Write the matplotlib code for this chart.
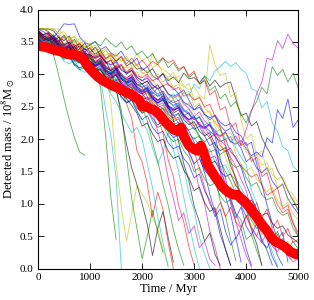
import matplotlib
matplotlib.use("Agg")
import matplotlib.pyplot as plt

# sample times of the individual runs (Myr)
TIME = list(range(0, 5001, 100))

# detected mass (1e8 Msun) for individual runs, sampled every 100 Myr
run01 = [3.70,3.66,3.61,3.57,3.67,3.78,3.77,3.78,3.58,3.49,3.46,3.51,3.38,3.43,3.33,3.28,3.36,3.22,3.17,3.25,
         3.06,3.12,2.98,2.92,3.01,2.84,2.79,2.70,2.76,2.60,2.45,2.53,2.38,2.30,2.36,2.21,2.12,2.17,1.98,1.86,
         1.65,1.72,1.55,1.48,1.56,1.35,1.24,1.30,1.08,0.95,0.85]
run02 = [3.60,3.54,3.47,3.52,3.41,3.33,3.38,3.30,3.22,3.29,3.25,3.14,3.19,3.08,3.02,3.10,2.95,2.89,2.97,2.84,
         2.85,2.76,2.70,2.79,2.62,2.55,2.61,2.48,2.36,2.41,2.20,2.05,1.88,1.64,1.40,1.05,0.82,0.45,0.12]
run03 = [3.65,3.58,3.62,3.49,3.53,3.44,3.39,3.47,3.35,3.28,3.30,3.19,3.25,3.12,3.06,3.14,2.99,2.93,3.01,2.82,
         2.75,2.81,2.68,2.60,2.66,2.52,2.45,2.51,2.36,2.28,2.20,2.26,2.10,2.02,2.08,1.90,1.81,1.86,1.69,1.58,
         1.50,1.41,1.46,1.28,1.13,1.19,0.98,0.86,0.92,0.70,0.50]
run04 = [3.55,3.44,3.47,3.31,3.36,3.25,3.29,3.14,3.21,3.08,3.05,2.96,3.02,2.88,2.82,2.90,2.76,2.70,2.74,2.60,
         2.55,2.46,2.52,2.38,2.30,2.16,2.05,1.78,1.55,1.15,0.90,0.48,0.22,0.00]
run05 = [3.68,3.61,3.65,3.55,3.50,3.58,3.46,3.40,3.47,3.38,3.35,3.27,3.33,3.20,3.15,3.22,3.08,3.02,3.09,2.96,
         2.90,2.97,2.84,2.77,2.83,2.70,2.63,2.68,2.55,2.47,2.35,2.42,2.28,2.20,2.14,1.98,1.90,1.72,1.58,1.38,
         1.20,0.88,0.70,0.45,0.28,0.06]
run06 = [3.70,3.70,3.70,3.70,3.63,3.54,3.60,3.49,3.55,3.41,3.45,3.37,3.40,3.29,3.34,3.25,3.21,3.28,3.17,3.33,
         3.20,3.27,3.10,3.16,3.02,2.95,3.03,2.88,2.80,2.86,2.60,2.66,2.48,2.40,2.25,2.18,1.96,2.04,1.77,1.62,
         1.50,1.57,1.38,1.30,1.19,1.25,1.05,0.96,1.02,0.84,0.75]
run07 = [3.70,3.70,3.70,3.67,3.57,3.52,3.59,3.43,3.48,3.38,3.40,3.31,3.37,3.24,3.29,3.20,3.27,3.13,3.18,3.08,
         3.10,3.02,3.09,2.95,3.01,2.90,2.96,2.87,3.02,2.93,2.95,2.87,2.97,2.82,2.91,2.80,2.86,2.88,2.62,2.36,
         2.40,2.20,2.27,2.02,1.86,1.72,1.52,1.38,1.20,1.05,0.90]
run08 = [3.62,3.56,3.50,3.54,3.43,3.38,3.44,3.30,3.26,3.33,3.19,3.15,3.21,3.07,3.02,3.08,2.94,2.88,2.93,2.78,
         2.74,2.80,2.66,2.60,2.67,2.52,2.47,2.53,2.38,2.30,2.34,2.20,2.16,2.22,2.04,1.96,2.00,1.80,1.72,1.56,
         1.30,1.10,0.92,0.64,0.45,0.18,0.02]
run09 = [3.58,3.49,3.44,3.52,3.37,3.30,3.35,3.22,3.19,3.26,3.12,3.05,3.10,2.97,2.93,3.00,2.86,2.78,2.84,2.70,
         2.66,2.72,2.57,2.48,2.53,2.38,2.33,2.39,2.21,2.14,2.18,2.03,1.96,2.02,1.85,1.76,1.82,1.63,1.56,1.60,
         1.40,1.28,1.33,1.14,1.06,1.10,0.90,0.82,0.86,0.62,0.50]
run10 = [3.60,3.53,3.55,3.46,3.49,3.40,3.36,3.44,3.31,3.27,3.30,3.18,3.22,3.10,3.05,3.12,2.97,2.91,2.96,2.84,
         2.80,2.66,2.55,2.32,2.10,1.68,1.42,0.98,0.72,0.33,0.05]
run11 = [3.50,3.41,3.44,3.29,3.34,3.20,3.16,3.22,3.07,3.03,3.08,2.92,2.96,2.84,2.78,2.85,2.70,2.63,2.66,2.53,
         2.55,2.44,2.48,2.32,2.36,2.22,2.17,2.24,2.06,1.98,2.03,1.87,1.80,1.85,1.65,1.57,1.60,1.44,1.38,1.25,
         1.10,0.85,0.68,0.44,0.28,0.05]
run12 = [3.55,3.47,3.51,3.38,3.42,3.30,3.25,3.33,3.20,3.14,3.19,3.05,3.10,2.98,2.92,2.99,2.86,2.80,2.85,2.72,
         2.70,2.61,2.66,2.52,2.47,2.42,2.38,2.24,2.12,1.78,1.60,1.22,1.00,0.58,0.33,0.00]
run13 = [3.70,3.70,3.70,3.70,3.70,3.60,3.55,3.58,3.47,3.42,3.48,3.35,3.30,3.37,3.24,3.20,3.27,3.12,3.09,3.15,
         3.03,2.98,3.33,3.14,3.08,3.02,2.93,2.97,2.82,2.76,2.81,2.68,2.62,3.46,3.15,2.98,3.02,2.65,2.72,2.30,
         2.00,2.08,1.75,1.82,1.50,1.55,1.25,1.32,1.05,1.10,0.90]
run14 = [3.65,3.57,3.60,3.47,3.52,3.40,3.35,3.43,3.30,3.24,3.29,3.16,3.20,3.06,3.01,3.08,2.94,2.87,2.91,2.78,
         2.73,2.79,2.63,2.56,2.61,2.47,2.40,2.45,2.30,2.22,2.27,2.12,2.05,2.10,1.92,1.82,1.87,1.58,1.40,1.12,
         0.92,0.60,0.38,0.05]
run15 = [3.58,3.50,3.46,3.52,3.38,3.33,3.39,3.24,3.20,3.27,3.14,3.08,3.13,2.99,2.94,3.00,2.86,2.81,2.87,2.74,
         2.70,2.75,2.62,2.56,2.61,2.48,2.43,2.49,2.36,2.30,2.35,2.22,2.18,2.24,2.10,2.05,2.11,1.96,1.92,1.98,
         1.85,1.74,1.80,1.72,2.02,1.94,2.45,2.32,2.62,2.18,2.30]
run16 = [3.62,3.55,3.58,3.46,3.40,3.48,3.34,3.42,3.30,3.40,3.45,3.50,3.44,3.56,3.48,3.42,3.50,3.38,3.44,3.30,
         3.36,3.25,3.32,3.18,3.26,3.10,3.18,3.05,3.12,2.95,3.02,2.85,2.92,2.75,2.82,2.62,2.70,2.50,2.58,2.38,
         2.25,2.45,2.58,2.80,2.70,3.12,2.98,3.08,2.88,3.02,2.78]
run17 = [3.55,3.45,3.50,3.36,3.44,3.28,3.36,3.20,3.28,3.12,3.22,3.05,3.14,2.98,3.06,2.90,2.98,2.84,2.92,2.78,
         2.86,2.72,2.80,2.66,2.74,2.62,2.70,2.58,2.72,2.66,2.85,2.78,2.98,2.90,3.05,3.12,3.20,3.12,3.18,3.08,
         3.02,2.78,2.74,2.48,2.58,2.25,2.12,1.88,1.82,1.58,1.50]
run18 = [3.60,3.53,3.48,3.55,3.42,3.37,3.43,3.28,3.24,3.31,3.17,3.12,3.18,3.04,2.99,3.06,2.92,2.86,2.91,2.78,
         2.72,2.78,2.64,2.58,2.63,2.50,2.44,2.49,2.36,2.30,2.34,2.22,2.17,2.23,2.08,2.04,2.10,1.95,2.05,1.90,
         2.15,2.42,2.70,2.88,3.25,3.22,3.52,3.40,3.62,3.48,3.40]
run19 = [3.68,3.60,3.64,3.52,3.60,3.46,3.54,3.40,3.48,3.34,3.42,3.28,3.36,3.24,3.32,3.20,3.28,3.16,3.25,3.14,
         3.22,3.12,3.20,3.15,3.25,3.18,3.22,3.08,3.12,2.98,3.05,2.85,2.90,2.68,2.75,2.45,2.50,2.18,2.25,1.90,
         1.95,1.65,1.72,1.42,1.48,1.18,1.25,0.92,0.98,0.70,0.55]
run20 = [3.65,3.56,3.60,3.45,3.52,3.38,3.46,3.30,3.40,3.24,3.32,3.15,3.22,3.05,2.55,1.62,0.95,0.42,0.85,1.28,
         1.15,1.02,0.78,0.62,0.30,0.05]
run21 = [3.62,3.55,3.48,3.30,2.98,2.62,2.30,2.02,1.80,1.75]
run22 = [3.55,3.46,3.50,3.36,3.44,3.28,3.36,3.20,3.28,3.12,3.20,3.05,2.95,2.45,2.05,1.40,0.00]
run23 = [3.58,3.48,3.54,3.40,3.48,3.32,3.40,3.25,3.34,3.18,3.26,3.05,2.80,2.05,1.10,0.45]
run24 = [3.60,3.50,3.55,3.40,3.48,3.32,3.40,3.25,3.34,3.18,3.28,3.12,3.20,3.02,3.00,2.75,2.45,1.72,1.08,0.62,
         0.15,0.50,0.90,0.55,0.25]
run25 = [3.70,3.70,3.66,3.58,3.52,3.60,3.46,3.54,3.40,3.48,3.34,3.42,3.28,3.20,3.05,2.80,2.35,1.92,1.55,1.30,
         1.00,0.68,0.20,0.62,0.88,0.48,0.10]
run26 = [3.62,3.55,3.58,3.46,3.52,3.38,3.46,3.32,3.40,3.25,3.34,3.18,3.26,3.12,3.05,2.98,2.80,2.55,2.32,1.82,
         1.65,1.30,0.80,1.18,0.92,0.40,0.00]
run27 = [3.55,3.49,3.44,3.50,3.36,3.31,3.35,3.24,3.18,3.22,3.10,3.04,3.08,2.95,2.86,2.91,2.76,2.68,2.72,2.55,
         2.40,2.46,2.32,2.22,2.28,2.12,2.02,2.06,1.90,1.80,1.62,1.70,1.52,1.42,1.48,1.30,1.22,1.26,1.08,0.98,
         0.80,0.86,0.70,0.62,0.66,0.50,0.42,0.46,0.32,0.26,0.20]
run28 = [3.66,3.60,3.54,3.58,3.46,3.40,3.44,3.32,3.28,3.33,3.20,3.12,3.16,3.02,2.95,2.99,2.84,2.76,2.80,2.64,
         2.50,2.55,2.41,2.33,2.38,2.22,2.14,2.18,2.02,1.94,1.80,1.86,1.70,1.61,1.66,1.50,1.42,1.46,1.28,1.18,
         1.00,1.06,0.90,0.82,0.86,0.70,0.62,0.66,0.52,0.46,0.40]
run29 = [3.55,3.50,3.43,3.47,3.35,3.40,3.32,3.27,3.34,3.22,3.20,3.14,3.18,3.05,3.00,3.07,2.94,2.88,2.95,2.80,
         2.70,2.76,2.62,2.55,2.60,2.45,2.36,2.40,2.24,2.12,1.95,1.72,1.48,1.15,0.88,0.52,0.30,0.05]
run30 = [3.60,3.55,3.50,3.56,3.42,3.37,3.41,3.30,3.25,3.31,3.20,3.13,3.17,3.02,2.96,3.00,2.86,2.78,2.82,2.70,
         2.60,2.65,2.50,2.42,2.47,2.30,2.22,2.26,2.08,2.00,1.90,1.95,1.78,1.70,1.74,1.52,1.30,1.00,0.72,0.45,
         0.20,0.02]
run31 = [3.52,3.44,3.38,3.43,3.30,3.24,3.28,3.15,3.09,3.13,3.05,2.96,3.00,2.84,2.77,2.82,2.65,2.56,2.60,2.42,
         2.30,2.12,1.86,1.62,1.80,2.10,1.85,1.50,1.10,0.70,0.32,0.00]
run32 = [3.70,3.70,3.66,3.60,3.54,3.58,3.48,3.52,3.40,3.44,3.35,3.30,3.34,3.22,3.25,3.15,3.08,3.12,3.00,3.04,
         2.90,2.86,2.92,2.78,2.82,2.68,2.62,2.66,2.52,2.56,2.40,2.35,2.38,2.25,2.28,2.12,2.06,2.10,1.94,1.97,
         1.80,1.72,1.76,1.60,1.63,1.45,1.38,1.42,1.22,1.15,1.00]
run33 = [3.62,3.57,3.52,3.58,3.46,3.40,3.45,3.34,3.30,3.35,3.25,3.18,3.22,3.10,3.06,3.10,2.98,2.92,2.96,2.85,
         2.80,2.84,2.72,2.66,2.70,2.58,2.52,2.56,2.44,2.38,2.30,2.34,2.20,2.12,2.05,1.70,1.40,1.05,0.78,0.95,
         0.65,0.52,0.70,0.40,0.32,0.48,0.20,0.05]
run34 = [3.58,3.51,3.55,3.44,3.38,3.43,3.30,3.26,3.32,3.18,3.20,3.12,3.15,3.02,2.97,3.03,2.89,2.84,2.90,2.76,
         2.70,2.74,2.60,2.52,2.56,2.40,2.30,2.34,2.12,1.98,1.80,1.55,1.25,1.00,0.86,1.02,0.80,0.95,0.72,0.62,
         0.82,0.64,0.50,0.72,0.52,0.40,0.53,0.33,0.20,0.27,0.20]
run35 = [3.64,3.58,3.53,3.58,3.46,3.42,3.47,3.36,3.31,3.36,3.25,3.20,3.24,3.12,3.08,3.13,3.00,2.95,2.99,2.88,
         2.85,2.89,2.76,2.70,2.74,2.62,2.56,2.60,2.46,2.40,2.30,2.34,2.18,2.05,1.84,1.58,1.30,1.10,0.85,0.64,
         0.80,0.62,0.50,0.40,0.56,0.34,0.26,0.40,0.20,0.10,0.15]
run36 = [3.56,3.50,3.45,3.49,3.36,3.30,3.35,3.22,3.17,3.21,3.10,3.03,3.07,2.94,2.88,2.93,2.80,2.72,2.77,2.66,
         2.60,2.64,2.50,2.44,2.48,2.35,2.27,2.31,2.16,2.08,2.00,2.05,1.88,1.80,1.84,1.66,1.50,1.35,1.15,1.00,
         0.95,0.74,0.62,0.76,0.50,0.40,0.58,0.34,0.30,0.42,0.30]
run37 = [3.60,3.52,3.56,3.44,3.48,3.36,3.31,3.37,3.25,3.20,3.20,3.14,3.17,3.05,3.00,3.04,2.92,2.86,2.90,2.80,
         2.75,2.79,2.66,2.60,2.63,2.50,2.45,2.48,2.34,2.26,2.15,2.20,2.05,1.90,1.95,1.50,1.12,0.84,0.46,0.62,
         0.30,0.05]
run38 = [3.66,3.60,3.55,3.61,3.48,3.44,3.50,3.38,3.34,3.40,3.30,3.25,3.29,3.18,3.14,3.19,3.06,3.02,3.06,2.95,
         2.90,2.94,2.83,2.78,2.82,2.70,2.66,2.70,2.57,2.52,2.45,2.49,2.38,2.33,2.37,2.26,2.20,2.24,2.10,2.05,
         1.90,1.95,1.62,1.30,0.98,0.70,0.45,0.56,0.10]
run39 = [3.54,3.46,3.40,3.44,3.30,3.23,3.27,3.14,3.07,3.11,3.00,2.92,2.95,2.82,2.74,2.78,2.66,2.57,2.61,2.48,
         2.40,2.44,2.28,2.18,2.22,2.05,1.96,2.00,1.82,1.72,1.50,1.56,1.38,1.28,1.32,1.12,1.02,1.06,0.85,0.75,
         0.45,0.52,0.28,0.05]
run40 = [3.62,3.55,3.58,3.46,3.50,3.38,3.33,3.39,3.26,3.22,3.20,3.12,3.16,3.02,2.98,3.02,2.88,2.82,2.86,2.75,
         2.70,2.58,2.42,2.12,1.82,1.40,1.08,0.74,0.86,0.54,0.66,0.32,0.42,0.14,0.05]
run41 = [3.70,3.70,3.70,3.70,3.63,3.66,3.54,3.59,3.48,3.52,3.40,3.45,3.34,3.40,3.27,3.32,3.20,3.25,3.12,3.16,
         3.00,3.06,2.95,3.00,2.88,2.94,2.80,2.85,2.70,2.74,2.50,2.56,2.40,2.44,2.20,2.00,1.72,1.50,1.22,1.00,
         0.90,0.64,0.76,0.52,0.62,0.40,0.52,0.32,0.42,0.26,0.30]
run42 = [3.68,3.61,3.64,3.52,3.57,3.45,3.50,3.38,3.44,3.32,3.30,3.26,3.30,3.18,3.22,3.08,3.14,3.00,3.06,2.92,
         2.85,2.90,2.78,2.84,2.70,2.52,2.30,1.96,1.62,1.35,0.96,0.72,0.42,0.55,0.22,0.05]
run43 = [3.52,3.45,3.48,3.36,3.41,3.28,3.34,3.22,3.27,3.14,3.15,3.08,3.12,3.00,3.05,2.92,2.97,2.84,2.88,2.78,
         2.75,2.80,2.66,2.70,2.58,2.62,2.50,2.54,2.42,2.46,2.30,2.35,2.22,2.26,2.10,2.15,2.00,2.04,1.86,1.72,
         1.60,1.20,1.02,0.72,0.52,0.26,0.05]
run44 = [3.62,3.55,3.58,3.47,3.52,3.41,3.47,3.35,3.40,3.30,3.28,3.24,3.28,3.16,3.22,3.10,3.16,3.04,3.10,2.98,
         2.95,3.00,2.90,2.94,2.82,2.86,2.76,2.80,2.66,2.70,2.60,2.64,2.50,2.54,2.35,2.18,1.90,1.68,1.35,1.10,
         1.00,0.85,1.02,0.78,0.92,0.62,0.75,0.50,0.62,0.40,0.45]
run45 = [3.55,3.48,3.42,3.46,3.32,3.26,3.30,3.16,3.10,3.14,3.05,2.96,2.99,2.84,2.76,2.80,2.64,2.56,2.60,2.44,
         2.30,2.36,2.18,2.08,2.12,1.94,1.85,1.89,1.70,1.60,1.40,1.46,1.20,1.05,0.80,0.92,0.58,0.36,0.48,0.10]
run46 = [3.60,3.53,3.57,3.45,3.49,3.38,3.42,3.30,3.35,3.24,3.25,3.17,3.20,3.08,3.12,2.98,3.02,2.86,2.78,2.65,
         2.50,2.28,1.95,1.66,1.30,0.98,0.60,0.30,0.05]
run47 = [3.58,3.50,3.53,3.40,3.44,3.32,3.36,3.24,3.28,3.15,3.10,3.02,2.96,2.84,2.70,2.58,2.40,2.25,2.10,2.18,
         2.00,1.62,1.25,0.80,0.40,0.02]
run48 = [3.64,3.57,3.52,3.56,3.44,3.38,3.42,3.30,3.25,3.29,3.20,3.10,3.06,2.96,2.88,2.80,2.70,2.62,2.52,2.40,
         2.20,2.25,2.08,1.96,2.00,1.82,1.70,1.74,1.52,1.40,1.20,1.26,1.02,0.88,0.94,0.62,0.30,0.05]

RUNS = [run01, run02, run03, run04, run05, run06, run07, run08, run09, run10,
        run11, run12, run13, run14, run15, run16, run17, run18, run19, run20,
        run21, run22, run23, run24, run25, run26, run27, run28, run29, run30,
        run31, run32, run33, run34, run35, run36, run37, run38, run39, run40,
        run41, run42, run43, run44, run45, run46, run47, run48]
RUN_COLORS = ['b', 'g', 'r', 'c', 'm', 'y', 'k', 'b', 'g', 'r',
              'c', 'm', 'y', 'k', 'b', 'g', 'c', 'm', 'r', 'y',
              'g', 'c', 'g', 'g', 'k', 'r', 'b', 'k', 'b', 'm',
              'c', 'y', 'b', 'r', 'm', 'g', 'b', 'b', 'g', 'm',
              'y', 'k', 'c', 'r', 'b', 'g', 'c', 'k']

# mean detected mass (thick red curve)
mean_time = [0, 150, 300, 450, 575, 700, 800, 880, 960, 1050, 1150, 1275, 1400, 1530, 1650,
             1780, 1880, 1950, 2000, 2050, 2150, 2230, 2330, 2420, 2500, 2600, 2680, 2750,
             2800, 2900, 3000, 3060, 3130, 3180, 3260, 3400, 3540, 3650, 3750, 3830, 3900,
             3950, 4050, 4150, 4300, 4400, 4500, 4570, 4650, 4750, 4850, 4950, 5000]
mean_mass = [3.44, 3.42, 3.38, 3.35, 3.31, 3.30, 3.28, 3.22, 3.12, 3.04, 2.96, 2.89, 2.84, 2.79, 2.74,
             2.69, 2.64, 2.60, 2.50, 2.52, 2.47, 2.45, 2.38, 2.29, 2.22, 2.15, 2.12, 2.18,
             2.05, 1.90, 1.84, 1.82, 1.90, 1.80, 1.60, 1.42, 1.26, 1.18, 1.14, 1.14, 1.08,
             1.05, 0.96, 0.85, 0.68, 0.58, 0.46, 0.41, 0.38, 0.33, 0.26, 0.22, 0.22]

XTICKS = [0, 1000, 2000, 3000, 4000, 5000]
YTICKS = [0.0, 0.5, 1.0, 1.5, 2.0, 2.5, 3.0, 3.5, 4.0]

plt.rcParams['font.family'] = ['Liberation Serif', 'DejaVu Serif']
plt.rcParams['mathtext.fontset'] = 'stix'

fig = plt.figure(figsize=(3.14, 3.0), dpi=100)
ax = fig.add_axes([0.121, 0.105, 0.829, 0.863])

for vals, col in zip(RUNS, RUN_COLORS):
    n = min(len(vals), len(TIME))
    ax.plot(TIME[:n], vals[:n], color=col, lw=0.65, alpha=0.6)

ax.plot(mean_time, mean_mass, color='red', lw=7, solid_joinstyle='round')

ax.set_xlim(0, 5000)
ax.set_ylim(0, 4.0)
ax.set_xticks(XTICKS)
ax.set_yticks(YTICKS)
ax.set_xticklabels([str(v) for v in XTICKS])
ax.set_yticklabels([f"{v:.1f}" for v in YTICKS])
ax.tick_params(direction='in', top=True, right=True, length=4, width=0.6, labelsize=8, pad=3)
for s in ax.spines.values():
    s.set_linewidth(0.8)
ax.set_xlabel('Time / Myr', fontsize=9, labelpad=1)
ax.set_ylabel(r'Detected mass / 10$^8$M$_\odot$', fontsize=9, labelpad=2)

fig.savefig('out.png', dpi=100)
